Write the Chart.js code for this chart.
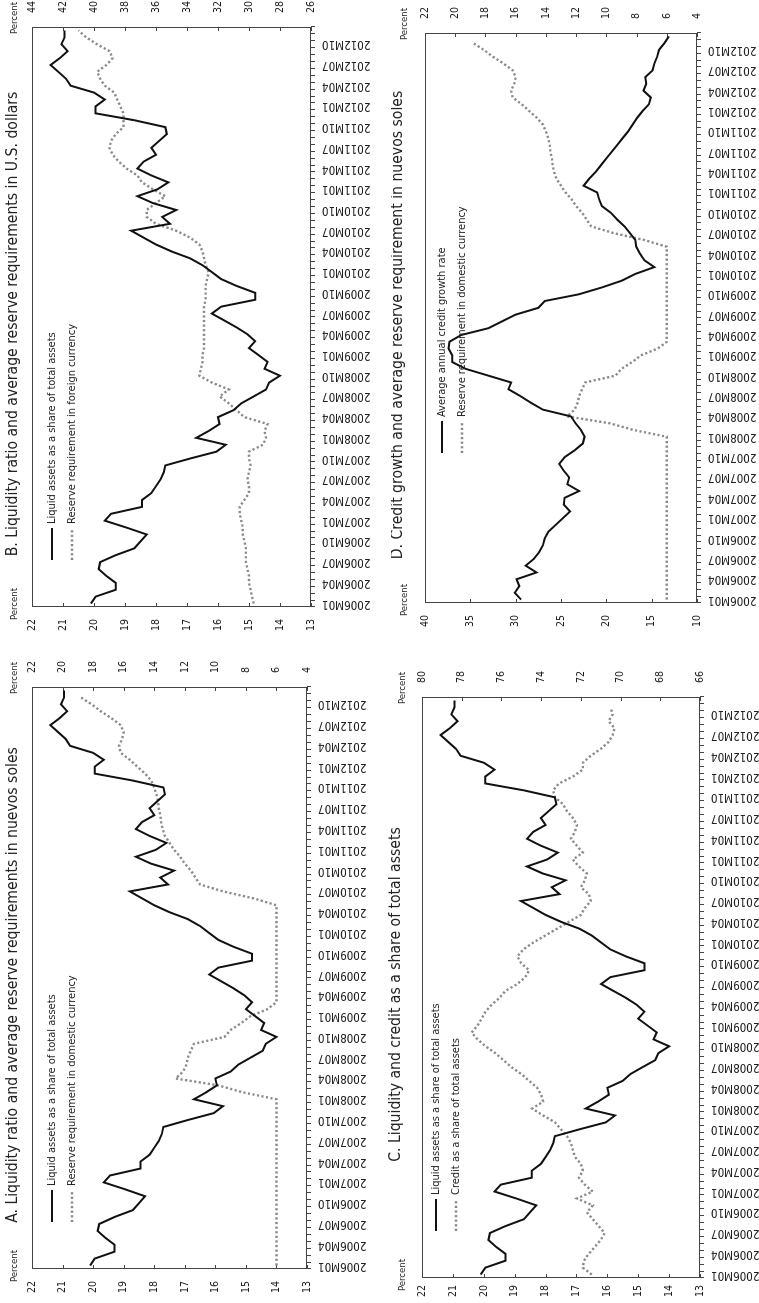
<!DOCTYPE html>
<html>
<head>
<meta charset="utf-8">
<script src="https://cdn.jsdelivr.net/npm/chart.js@4.4.0/dist/chart.umd.min.js"></script>
<style>
  html, body { margin: 0; padding: 0; background: #fff; overflow: hidden; }
  /* the four panels are laid out on a landscape sheet that is turned a quarter turn */
  #sheet {
    position: absolute; left: 0; top: 0;
    width: 1303px; height: 759px;
    transform-origin: 0 0;
    transform: translateY(1303px) rotate(-90deg);
    background: #fff;
  }
  #sheet canvas { position: absolute; }
</style>
</head>
<body>
<div id="sheet">
  <canvas id="panelA"></canvas>
  <canvas id="panelB"></canvas>
  <canvas id="panelC"></canvas>
  <canvas id="panelD"></canvas>
</div>
<script>
// monthly categories 2006M01 .. 2012M12
const months = [];
for (let y = 2006; y <= 2012; y++) {
  for (let m = 1; m <= 12; m++) months.push(y + 'M' + String(m).padStart(2, '0'));
}

const liquidShare = [
  20.1, 19.95, 19.3, 19.3, 19.6, 19.85, 19.8, 19.3, 18.7, 18.5, 18.3, 18.95,
  19.65, 19.45, 18.45, 18.45, 18.15, 18.0, 17.85, 17.75, 17.7, 16.9, 16.05, 15.75,
  16.7, 16.3, 15.95, 16.0, 15.5, 15.25, 14.85, 14.45, 14.35, 14.0, 14.5, 14.4,
  14.7, 15.0, 14.8, 15.05, 15.4, 15.8, 16.2, 15.9, 14.8, 14.8, 15.4, 15.9,
  16.2, 16.5, 16.9, 17.5, 18.0, 18.4, 18.8, 17.55, 17.8, 17.35, 18.1, 18.6,
  17.95, 17.6, 18.15, 18.6, 18.4, 18.0, 18.15, 17.9, 17.65, 17.7, 18.7, 19.95,
  19.95, 19.65, 20.0, 20.75, 20.9, 21.15, 21.4, 21.1, 20.85, 21.05, 20.95, 20.95
];

const reserveDomestic = [
  6.0, 6.0, 6.0, 6.0, 6.0, 6.0, 6.0, 6.0, 6.0, 6.0, 6.0, 6.0,
  6.0, 6.0, 6.0, 6.0, 6.0, 6.0, 6.0, 6.0, 6.0, 6.0, 6.0, 6.0,
  6.0, 8.2, 9.8, 12.6, 12.1, 11.9, 11.8, 11.6, 11.4, 9.4, 9.0, 8.3,
  7.7, 6.6, 6.0, 6.0, 6.0, 6.0, 6.0, 6.0, 6.0, 6.0, 6.0, 6.0,
  6.0, 6.0, 6.0, 6.0, 6.0, 7.5, 9.5, 11.0, 11.3, 11.6, 12.0, 12.3,
  12.7, 13.0, 13.3, 13.45, 13.55, 13.6, 13.7, 13.75, 13.85, 14.0, 14.2, 14.6,
  15.1, 15.6, 16.2, 16.3, 16.1, 16.0, 16.2, 16.8, 17.5, 18.1, 18.8, null
];

const reserveForeign = [
  29.7, 29.8, 29.9, 30.0, 30.0, 30.1, 30.2, 30.2, 30.2, 30.3, 30.4, 30.4,
  30.5, 30.6, 30.6, 30.3, 30.0, 30.0, 30.1, 30.0, 29.9, 30.0, 30.0, 29.1,
  28.9, 29.0, 28.8, 30.3, 30.8, 31.3, 31.9, 31.3, 32.4, 33.2, 33.1, 33.0,
  33.0, 32.9, 32.9, 32.9, 32.9, 32.9, 32.9, 32.9, 32.8, 32.8, 32.8, 32.7,
  32.6, 32.8, 32.9, 33.0, 33.2, 33.8, 34.7, 36.0, 36.6, 36.6, 36.0, 35.4,
  36.2, 36.9, 37.2, 37.9, 38.4, 38.8, 39.0, 38.9, 38.6, 38.1, 38.1, 38.1,
  38.3, 38.5, 38.7, 39.3, 39.6, 39.8, 39.2, 38.8, 39.0, 39.8, 40.5, 41.0
];

const creditShare = [
  71.45, 71.9, 71.85, 71.6, 71.3, 71.0, 70.8, 71.1, 71.4, 71.7, 71.4, 72.2,
  71.4, 71.8, 72.1, 71.9, 72.0, 72.3, 72.4, 72.5, 72.7, 73.0, 73.3, 73.9,
  74.45, 73.9, 74.0, 74.2, 74.6, 75.0, 75.5, 75.9, 76.3, 76.8, 77.2, 77.5,
  77.2, 77.0, 76.8, 76.5, 76.1, 75.8, 75.2, 74.8, 74.6, 75.0, 75.2, 74.9,
  74.4, 73.8, 73.2, 72.6, 72.0, 71.8, 71.5, 71.6, 72.0, 71.8, 71.7, 72.1,
  72.4, 71.9, 72.2, 72.5, 72.3, 72.2, 72.4, 72.7, 72.9, 73.3, 73.4, 73.1,
  72.4, 71.9, 71.9, 71.5, 71.0, 70.6, 70.4, 70.3, 70.6, 70.4, 70.5, null
];

const creditGrowth = [
  29.4, 30.1, 29.6, 29.9, 27.7, 28.9, 28.0, 27.4, 27.0, 26.8, 26.4, 25.6,
  24.8, 24.0, 24.7, 24.6, 23.0, 24.3, 24.1, 24.7, 25.2, 24.6, 23.5, 22.6,
  22.4, 22.8, 23.4, 23.9, 27.0, 28.3, 29.5, 30.8, 30.5, 33.0, 35.5, 37.0,
  37.0, 37.4, 37.3, 36.0, 33.0, 31.5, 30.0, 27.5, 26.8, 23.0, 20.5, 18.3,
  16.8, 14.7, 15.8, 16.3, 16.7, 16.8, 17.4, 18.0, 18.8, 19.5, 20.5, 20.8,
  21.0, 22.5, 21.9, 21.2, 20.6, 20.0, 19.4, 18.8, 18.2, 17.6, 17.1, 16.6,
  16.0, 15.3, 15.1, 15.9, 15.6, 15.7, 14.9, 14.7, 14.4, 14.2, 13.6, 13.1
];

const FONT = "'DejaVu Sans Condensed', 'Liberation Sans Narrow', sans-serif";
const INK = '#222';
const FRAME = '#444';
const DOT = '#8a8a8a';

// space around each plot area inside its canvas
const PAD = { l: 42, r: 42, t: 34, b: 62 };

const solid = (label, data, axis) => ({
  label, data, yAxisID: axis,
  borderColor: '#111', borderWidth: 2, pointRadius: 0, tension: 0, fill: false
});
const dotted = (label, data, axis) => ({
  label, data, yAxisID: axis,
  borderColor: DOT, borderWidth: 2.4, borderDash: [2.2, 2.4], pointRadius: 0, tension: 0, fill: false
});

// frame, inward value ticks, headings and legend
const panelDeco = {
  id: 'panelDeco',
  beforeDatasetsDraw(chart) {
    const { ctx, chartArea: a } = chart;
    ctx.save();
    ctx.strokeStyle = FRAME;
    ctx.lineWidth = 1;
    ctx.strokeRect(a.left + 0.5, a.top + 0.5, a.right - a.left - 1, a.bottom - a.top - 1);
    ctx.beginPath();
    ['y', 'y1'].forEach(id => {
      const s = chart.scales[id];
      const x0 = s.position === 'left' ? a.left : a.right;
      const dir = s.position === 'left' ? 1 : -1;
      s.ticks.forEach(t => {
        const py = Math.round(s.getPixelForValue(t.value)) + 0.5;
        ctx.moveTo(x0, py);
        ctx.lineTo(x0 + dir * 4, py);
      });
    });
    ctx.stroke();
    ctx.restore();
  },
  afterDraw(chart, args, o) {
    const { ctx, chartArea: a } = chart;
    ctx.save();
    ctx.fillStyle = INK;
    ctx.textBaseline = 'middle';
    ctx.textAlign = 'center';
    ctx.font = '15.6px ' + FONT;
    ctx.fillText(o.title, (a.left + a.right) / 2 - 7, a.top - o.titleGap);
    ctx.font = '9.5px ' + FONT;
    ctx.fillText('Percent', a.left + 3, a.top - o.unitGap);
    ctx.fillText('Percent', a.right + 9, a.top - o.unitGap);

    // legend rows
    ctx.textAlign = 'left';
    ctx.font = '11px ' + FONT;
    o.legend.forEach((item, k) => {
      const y = a.top + o.legendTop + k * 20;
      const x = a.left + o.legendLeft;
      ctx.beginPath();
      ctx.moveTo(x, y);
      ctx.lineTo(x + 32, y);
      if (item.dotted) {
        ctx.strokeStyle = DOT; ctx.lineWidth = 2.4; ctx.setLineDash([2.2, 2.4]);
      } else {
        ctx.strokeStyle = '#111'; ctx.lineWidth = 2; ctx.setLineDash([]);
      }
      ctx.stroke();
      ctx.fillText(item.text, x + 36, y);
    });
    ctx.restore();
  }
};

const tickFont = { family: FONT, size: 10.5 };

function valueAxis(position, min, max, step, pad) {
  return {
    position, min, max,
    ticks: { stepSize: step, padding: pad, color: INK, font: tickFont },
    grid: { display: false, drawTicks: false },
    border: { display: false },
    afterFit(s) { s.width = position === 'left' ? PAD.l : PAD.r; }
  };
}

function buildPanel(id, box, axes, datasets, deco) {
  const canvas = document.getElementById(id);
  const w = box.r - box.l + PAD.l + PAD.r;
  const h = box.b - box.t + PAD.t + PAD.b;
  canvas.width = w; canvas.height = h;
  canvas.style.width = w + 'px'; canvas.style.height = h + 'px';
  canvas.style.left = (box.l - PAD.l) + 'px';
  canvas.style.top = (box.t - PAD.t) + 'px';

  new Chart(canvas, {
    type: 'line',
    data: { labels: months, datasets },
    options: {
      responsive: false,
      animation: false,
      devicePixelRatio: 1,
      events: [],
      layout: { padding: { top: PAD.t, left: 0, right: 0, bottom: 0 } },
      plugins: { legend: { display: false }, tooltip: { enabled: false }, panelDeco: deco },
      scales: {
        x: {
          type: 'category',
          offset: true,
          grid: { offset: true, drawOnChartArea: false, drawTicks: true, tickLength: 4, color: FRAME },
          border: { display: false },
          ticks: {
            autoSkip: false, minRotation: 90, maxRotation: 90, padding: 7,
            color: INK, font: { family: FONT, size: 11.5 },
            callback(v, i) { return i % 3 === 0 ? months[i] : ''; }
          },
          afterFit(s) { s.height = PAD.b; }
        },
        y: valueAxis('left', axes.left[0], axes.left[1], axes.left[2], axes.left[3]),
        y1: valueAxis('right', axes.right[0], axes.right[1], axes.right[2], axes.right[3])
      }
    },
    plugins: [panelDeco]
  });
}

buildPanel('panelA', { l: 34, r: 616, t: 32, b: 307 },
  { left: [13, 22, 1, 12], right: [4, 22, 2, 14] },
  [solid('Liquid assets as a share of total assets', liquidShare, 'y'),
   dotted('Reserve requirement in domestic currency', reserveDomestic, 'y1')],
  { title: 'A. Liquidity ratio and average reserve requirements in nuevos soles',
    titleGap: 19, unitGap: 17, legendTop: 20, legendLeft: 47,
    legend: [{ text: 'Liquid assets as a share of total assets' },
             { text: 'Reserve requirement in domestic currency', dotted: true }] });

buildPanel('panelB', { l: 696, r: 1276, t: 32, b: 311 },
  { left: [13, 22, 1, 12], right: [26, 44, 2, 14] },
  [solid('Liquid assets as a share of total assets', liquidShare, 'y'),
   dotted('Reserve requirement in foreign currency', reserveForeign, 'y1')],
  { title: 'B. Liquidity ratio and average reserve requirements in U.S. dollars',
    titleGap: 19, unitGap: 17, legendTop: 20, legendLeft: 47,
    legend: [{ text: 'Liquid assets as a share of total assets' },
             { text: 'Reserve requirement in foreign currency', dotted: true }] });

buildPanel('panelC', { l: 25, r: 606, t: 422, b: 700 },
  { left: [13, 22, 1, 7], right: [66, 80, 2, 14] },
  [solid('Liquid assets as a share of total assets', liquidShare, 'y'),
   dotted('Credit as a share of total assets', creditShare, 'y1')],
  { title: 'C. Liquidity and credit as a share of total assets',
    titleGap: 26, unitGap: 19, legendTop: 14, legendLeft: 47,
    legend: [{ text: 'Liquid assets as a share of total assets' },
             { text: 'Credit as a share of total assets', dotted: true }] });

buildPanel('panelD', { l: 700, r: 1270, t: 425, b: 697 },
  { left: [10, 40, 5, 12], right: [4, 22, 2, 14] },
  [solid('Average annual credit growth rate', creditGrowth, 'y'),
   dotted('Reserve requirement in domestic currency', reserveDomestic, 'y1')],
  { title: 'D. Credit growth and average reserve requirement in nuevos soles',
    titleGap: 27, unitGap: 20, legendTop: 17, legendLeft: 150,
    legend: [{ text: 'Average annual credit growth rate' },
             { text: 'Reserve requirement in domestic currency', dotted: true }] });
</script>
</body>
</html>
